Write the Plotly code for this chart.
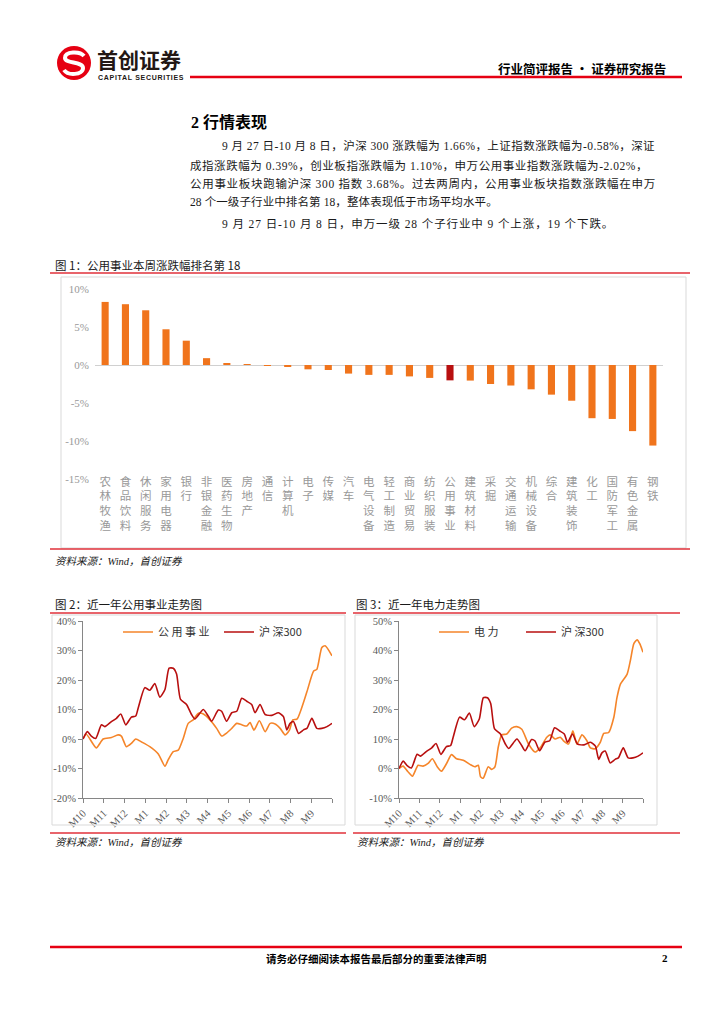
import plotly.graph_objects as go

W, H = 724, 1024


def px(x):
    return x / W


def py(y):
    return 1 - y / H


# ---------------- data ----------------
industries = ["农林牧渔", "食品饮料", "休闲服务", "家用电器", "银行", "非银金融", "医药生物",
              "房地产", "通信", "计算机", "电子", "传媒", "汽车", "电气设备", "轻工制造",
              "商业贸易", "纺织服装", "公用事业", "建筑材料", "采掘", "交通运输", "机械设备",
              "综合", "建筑装饰", "化工", "国防军工", "有色金属", "钢铁"]
weekly_change = [8.3, 8.0, 7.2, 4.7, 3.2, 0.9, 0.26, 0.13, -0.02, -0.2, -0.57, -0.66, -1.13,
                 -1.3, -1.3, -1.5, -1.7, -2.02, -2.05, -2.5, -2.7, -3.2, -3.9, -4.7, -7.0,
                 -7.1, -8.7, -10.6]
highlight = "公用事业"
bar_ticks = [-15, -10, -5, 0, 5, 10]

month_labels = ["M10", "M11", "M12", "M1", "M2", "M3", "M4", "M5", "M6", "M7", "M8", "M9", ""]

hs300_x = [0.00, 0.21, 0.40, 0.61, 0.89, 1.05, 1.37, 1.61, 1.82, 2.06, 2.33, 2.54, 2.66,
           2.98, 3.22, 3.46, 3.70, 3.95, 4.15, 4.35, 4.51, 4.70, 4.99, 5.23, 5.39, 5.80,
           6.04, 6.20, 6.52, 6.68, 6.92, 7.17, 7.41, 7.65, 7.89, 8.13, 8.29, 8.53, 8.78,
           9.10, 9.42, 9.66, 9.82, 9.98, 10.14, 10.39, 10.63, 10.79, 11.03, 11.27, 11.51,
           11.76, 12.0]
hs300_y = [0.0, 2.5, 1.0, 0.2, 4.8, 4.2, 5.9, 7.0, 8.5, 4.8, 7.4, 7.8, 10.5,
           17.4, 16.5, 18.8, 14.2, 16.8, 24.0, 24.0, 22.0, 13.4, 11.7, 8.3, 6.8, 10.0,
           7.7, 6.0, 9.8, 9.4, 6.0, 8.9, 9.4, 13.8, 12.8, 11.7, 8.9, 11.7, 8.3,
           8.0, 8.9, 7.6, 3.1, 5.3, 5.9, 1.9, 3.1, 3.6, 7.0, 3.6, 3.6,
           4.2, 5.3]

util_x = [0.00, 0.16, 0.64, 0.97, 1.37, 1.69, 1.85, 2.09, 2.33, 2.54, 2.82, 3.22, 3.62,
          3.95, 4.11, 4.35, 4.59, 4.83, 5.07, 5.31, 5.56, 5.80, 6.12, 6.44, 6.68, 6.92,
          7.17, 7.41, 7.65, 7.89, 8.05, 8.24, 8.50, 8.78, 9.02, 9.26, 9.50, 9.74, 9.95,
          10.11, 10.31, 10.79, 11.11, 11.27, 11.51, 11.67, 12.0]
util_y = [0.0, 1.6, -3.0, 0.0, 0.5, 1.4, 1.0, -2.6, -1.5, 0.0, -1.0, -2.6, -5.0,
          -9.2, -7.0, -4.3, -3.8, 0.2, 5.3, 6.5, 8.7, 8.5, 6.5, 3.6, 1.0, 2.0,
          3.6, 5.3, 4.8, 4.4, 5.6, 3.0, 6.2, 2.5, 5.3, 5.1, 3.6, 1.4, 3.0,
          6.5, 6.7, 16.0, 23.0, 23.6, 31.0, 31.6, 28.2]

power_x = [0.00, 0.20, 0.44, 0.66, 0.94, 1.18, 1.43, 1.64, 1.88, 2.09, 2.34, 2.58, 2.83,
           3.16, 3.49, 3.73, 3.90, 4.01, 4.14, 4.39, 4.56, 4.72, 4.88, 5.05, 5.30, 5.54,
           5.79, 6.04, 6.37, 6.69, 6.94, 7.27, 7.43, 7.68, 7.93, 8.09, 8.34, 8.55, 8.75,
           9.00, 9.24, 9.41, 9.65, 9.90, 10.07, 10.31, 10.56, 10.72, 10.89, 11.22, 11.38,
           11.55, 11.71, 11.84, 12.0]
power_y = [0.0, 0.8, -1.1, -2.6, 1.1, 0.8, 1.7, 3.3, 0.6, -0.9, 1.7, 4.7, 3.3,
           2.8, 1.4, 0.6, 1.1, -2.8, -3.3, 0.6, -0.3, 0.6, 7.2, 11.4, 11.7, 13.7,
           14.2, 13.3, 8.3, 5.6, 7.0, 10.6, 11.4, 10.0, 10.6, 9.4, 8.3, 12.8, 8.3,
           11.4, 9.4, 7.0, 6.7, 8.9, 11.9, 12.2, 17.2, 24.0, 28.6, 32.0, 36.6,
           42.3, 43.6, 42.3, 39.4]

c2_ticks = [-20, -10, 0, 10, 20, 30, 40]
c3_ticks = [-10, 0, 10, 20, 30, 40, 50]

body_lines = [
    "9 月 27 日-10 月 8 日，沪深 300 涨跌幅为 1.66%，上证指数涨跌幅为-0.58%，深证",
    "成指涨跌幅为 0.39%，创业板指涨跌幅为 1.10%，申万公用事业指数涨跌幅为-2.02%，",
    "公用事业板块跑输沪深 300 指数 3.68%。过去两周内，公用事业板块指数涨跌幅在申万",
    "28 个一级子行业中排名第 18，整体表现低于市场平均水平。",
    "9 月 27 日-10 月 8 日，申万一级 28 个子行业中 9 个上涨，19 个下跌。",
]

# ---------------- styles ----------------
ORANGE_BAR = "#F0741C"
DARK_RED = "#B80F0F"
ORANGE_LINE = "#F5852A"
RED_LINE = "#E0303A"
GRAY_BOX = "#D9D9D9"
SERIF = "Liberation Serif, Noto Sans CJK SC"
SANS = "Noto Sans CJK SC"

fig = go.Figure()

# bar chart
bar_colors = [DARK_RED if n == highlight else ORANGE_BAR for n in industries]
fig.add_trace(go.Bar(
    x=industries, y=weekly_change, marker=dict(color=bar_colors, line=dict(width=0)),
    xaxis="x", yaxis="y", showlegend=False))

# line chart 2
fig.add_trace(go.Scatter(x=util_x, y=util_y, mode="lines", name="公 用 事 业",
                         line=dict(color=ORANGE_LINE, width=1.6, shape="spline", smoothing=0.6),
                         xaxis="x2", yaxis="y2", legend="legend"))
fig.add_trace(go.Scatter(x=hs300_x, y=hs300_y, mode="lines", name="沪 深300",
                         line=dict(color=DARK_RED, width=1.6, shape="spline", smoothing=0.6),
                         xaxis="x2", yaxis="y2", legend="legend"))
# line chart 3
fig.add_trace(go.Scatter(x=power_x, y=power_y, mode="lines", name="电 力",
                         line=dict(color=ORANGE_LINE, width=1.6, shape="spline", smoothing=0.6),
                         xaxis="x3", yaxis="y3", legend="legend2"))
fig.add_trace(go.Scatter(x=hs300_x, y=hs300_y, mode="lines", name="沪 深300",
                         line=dict(color=DARK_RED, width=1.6, shape="spline", smoothing=0.6),
                         xaxis="x3", yaxis="y3", legend="legend2"))

axis_font = dict(family=SERIF, size=10.5, color="#595959")

layout = dict(
    width=W, height=H, margin=dict(l=0, r=0, t=0, b=0, autoexpand=False),
    paper_bgcolor="white", plot_bgcolor="rgba(0,0,0,0)",
    bargap=0.65,
    xaxis=dict(domain=[px(95), px(663)], anchor="free", position=py(473),
               showline=False, ticks="", showgrid=False, zeroline=False, tickangle=0,
               tickvals=industries, ticktext=["<br>".join(list(n)) for n in industries],
               tickfont=dict(family=SANS, size=11.5, color="#999999")),
    yaxis=dict(domain=[py(479), py(289)], range=[-15, 10], anchor="free", position=px(89),
               tickvals=bar_ticks, ticktext=[f"{v}%" for v in bar_ticks],
               showgrid=False, showline=False, ticks="",
               zeroline=True, zerolinecolor="#D0D0D0", zerolinewidth=1,
               tickfont=dict(family=SERIF, size=11, color="#999999")),
    xaxis2=dict(domain=[px(83), px(332)], anchor="y2", range=[0, 12],
                tickvals=list(range(13)), ticktext=month_labels, tickangle=-45,
                showline=True, linecolor="#868686", linewidth=1, ticks="outside", ticklen=4,
                tickcolor="#868686", showgrid=False, zeroline=False, tickfont=axis_font),
    yaxis2=dict(domain=[py(798), py(621)], anchor="x2", range=[-20, 40],
                tickvals=c2_ticks, ticktext=[f"{v}%" for v in c2_ticks],
                showline=True, linecolor="#868686", linewidth=1, ticks="outside", ticklen=4,
                tickcolor="#868686", showgrid=False, zeroline=False, tickfont=axis_font),
    xaxis3=dict(domain=[px(399), px(643)], anchor="y3", range=[0, 12],
                tickvals=list(range(13)), ticktext=month_labels, tickangle=-45,
                showline=True, linecolor="#868686", linewidth=1, ticks="outside", ticklen=4,
                tickcolor="#868686", showgrid=False, zeroline=False, tickfont=axis_font),
    yaxis3=dict(domain=[py(798), py(621)], anchor="x3", range=[-10, 50],
                tickvals=c3_ticks, ticktext=[f"{v}%" for v in c3_ticks],
                showline=True, linecolor="#868686", linewidth=1, ticks="outside", ticklen=4,
                tickcolor="#868686", showgrid=False, zeroline=False, tickfont=axis_font),
    legend=dict(x=px(118), y=py(632), xanchor="left", yanchor="middle", orientation="h",
                entrywidth=56, entrywidthmode="pixels", itemwidth=30,
                font=dict(family=SANS, size=11, color="#333333"), bgcolor="rgba(0,0,0,0)"),
    legend2=dict(x=px(434), y=py(632), xanchor="left", yanchor="middle", orientation="h",
                 entrywidth=42, entrywidthmode="pixels", itemwidth=30,
                 font=dict(family=SANS, size=11, color="#333333"), bgcolor="rgba(0,0,0,0)"),
)
fig.update_layout(**layout)

shapes = []


def hline(x0, x1, y, color, width):
    shapes.append(dict(type="line", xref="paper", yref="paper", x0=px(x0), x1=px(x1),
                       y0=py(y), y1=py(y), line=dict(color=color, width=width)))


def box(x0, y0, x1, y1):
    shapes.append(dict(type="rect", xref="paper", yref="paper", x0=px(x0), x1=px(x1),
                       y0=py(y1), y1=py(y0), line=dict(color=GRAY_BOX, width=1)))


# header
hline(190, 682, 77, "#E60012", 2.5)
shapes.append(dict(type="circle", xref="paper", yref="paper", x0=px(57), x1=px(91),
                   y0=py(80), y1=py(46), fillcolor="#E60012", line=dict(width=0)))
# footer
hline(50, 682, 947, "#E60012", 2.5)
# chart boxes
box(61, 277, 686, 548)
box(52, 615, 345, 825)
box(355, 615, 657, 825)
# red title / source rules
hline(50, 690, 273, RED_LINE, 1.5)
hline(50, 690, 549, RED_LINE, 1.5)
hline(50, 346, 613, RED_LINE, 1.5)
hline(353, 680, 613, RED_LINE, 1.5)
hline(50, 346, 833, RED_LINE, 1.5)
hline(353, 680, 833, RED_LINE, 1.5)


def P(x, y):
    return f"{px(x)},{py(y)}"


fig.update_layout(shapes=shapes)
# logo "S" stroke
fig.add_shape(type="path", xref="paper", yref="paper",
              path=(f"M {P(84, 56)} C {P(80, 51)} {P(65, 51)} {P(65, 58)} "
                    f"C {P(65, 64)} {P(83, 61)} {P(83, 68)} "
                    f"C {P(83, 75)} {P(68, 76)} {P(64, 70)}"),
              line=dict(color="white", width=4))

ann = []


def text(x, y, s, size, family=SANS, color="#000000", xanchor="left", bold=False, italic=False):
    if bold:
        s = f"<b>{s}</b>"
    if italic:
        s = f"<i>{s}</i>"
    ann.append(dict(x=px(x), y=py(y), xref="paper", yref="paper", text=s, showarrow=False,
                    xanchor=xanchor, yanchor="middle", align="left",
                    font=dict(family=family, size=size, color=color)))


text(95, 59, "首创证券", 21, family=SANS, color="#231815", bold=True)
text(96, 77, '<span style="letter-spacing:0.7px">CAPITAL SECURITIES</span>', 7,
     family="Liberation Sans", color="#231815", bold=True)
text(668, 68, "行业简评报告 · 证券研究报告", 12.5, family=SANS, xanchor="right", bold=True)

text(189, 122, "2 行情表现", 16, family=SERIF, bold=True)
body_y = [145, 165, 183, 201, 223]
body_x = [220, 188, 188, 188, 220]
spacing = [0.45, 0.55, 0.7, 0.1, 0.9]
for s, x, y, ls in zip(body_lines, body_x, body_y, spacing):
    text(x, y, f'<span style="letter-spacing:{ls}px">{s}</span>', 11.5, family=SERIF,
         color="#1a1a1a")

text(53, 265, "图 1：公用事业本周涨跌幅排名第 18", 11.5, color="#1a1a1a")
text(53, 604, "图 2：近一年公用事业走势图", 11.5, color="#1a1a1a")
text(354, 604, "图 3：近一年电力走势图", 11.5, color="#1a1a1a")

src = "资料来源：Wind，首创证券"
text(53, 561, src, 10.5, family=SERIF, color="#1a1a1a", italic=True)
text(53, 842, src, 10.5, family=SERIF, color="#1a1a1a", italic=True)
text(355, 842, src, 10.5, family=SERIF, color="#1a1a1a", italic=True)

text(376, 958, "请务必仔细阅读本报告最后部分的重要法律声明", 10.5, family=SANS, xanchor="center", bold=True)
text(670, 958, "2", 11, family=SERIF, xanchor="right", bold=True)

fig.update_layout(annotations=ann)

fig.write_html("out.html", config={"displayModeBar": False},
               post_script="document.body.style.margin='0';document.body.style.overflow='hidden';")
